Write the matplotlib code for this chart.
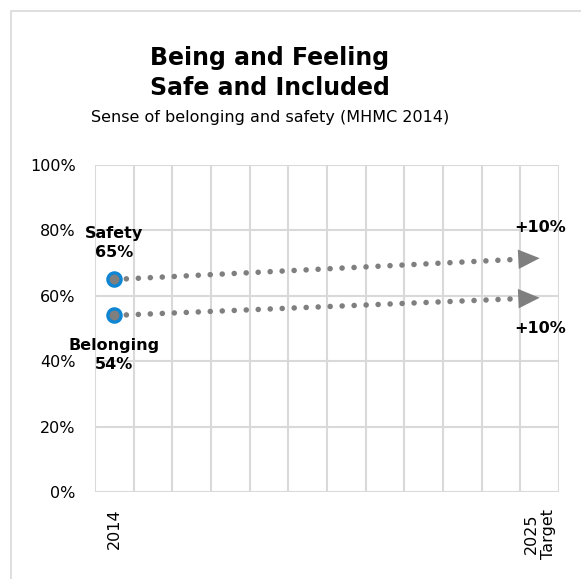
import matplotlib
matplotlib.use("Agg")
import matplotlib.pyplot as plt
from matplotlib.patches import Rectangle

# data
years = ["2014", "2015", "2016", "2017", "2018", "2019", "2020", "2021",
         "2022", "2023", "2024", "2025\nTarget"]
shown_ticks = ["2014", "2025\nTarget"]
series_names = ["Safety", "Belonging"]
baseline = [65, 54]           # 2014
target = [71.5, 59.4]         # 2025 (+10%)
target_labels = ["+10%", "+10%"]

GRID = "#D9D9D9"
DOTS = "#7F7F7F"
BLUE = "#0E86D4"

fig = plt.figure(figsize=(5.81, 5.79), dpi=100)
fig.patch.set_facecolor("white")
fig.patches.append(Rectangle((11 / 581, -0.01), 1.0, (579 - 11) / 579 + 0.01,
                             transform=fig.transFigure, fill=False,
                             edgecolor=GRID, linewidth=1.2))

ax = fig.add_axes([95 / 581, 87 / 579, 464 / 581, 327 / 579])
n = len(years)
ax.set_xlim(0, n)
ax.set_ylim(0, 100)

# grid
for x in range(n + 1):
    ax.axvline(x, color=GRID, lw=1.5, zorder=0)
for y in range(20, 101, 20):
    ax.axhline(y, color=GRID, lw=1.5, zorder=0)
for s in ax.spines.values():
    s.set_visible(False)
ax.axhline(0, color=GRID, lw=1.5, zorder=0)

ax.set_yticks(range(0, 101, 20))
ax.set_yticklabels([f"{v}%" for v in range(0, 101, 20)], fontsize=11.5)
ax.tick_params(axis="y", length=0, pad=14)
pos = [years.index(t) + 0.5 for t in shown_ticks]
ax.set_xticks(pos)
ax.set_xticklabels(shown_ticks, rotation=90, fontsize=11.5, va="top",
                   linespacing=1.15)
ax.tick_params(axis="x", length=0, pad=12)

x0 = 0.5
x1 = n - 0.5
cut = 0.5
for name, b, t, lab in zip(series_names, baseline, target, target_labels):
    slope = (t - b) / (x1 - x0)
    ax.plot([x0, x1 - cut], [b, t - slope * cut],
            color=DOTS, lw=4.0, linestyle=(0, (0.01, 2.15)),
            dash_capstyle="round", zorder=2)
    ax.annotate("", xy=(x1, t), xytext=(x1 - cut, t - slope * cut),
                arrowprops=dict(arrowstyle="-|>,head_length=1.1,head_width=0.5",
                                color=DOTS, lw=0, mutation_scale=14,
                                shrinkA=0, shrinkB=0), zorder=3)
    ax.plot([x0], [b], marker="o", ms=9.5, mfc=DOTS, mec=BLUE, mew=2.4,
            zorder=4, clip_on=False)

# point labels
ax.text(x0, baseline[0] + 6, f"{series_names[0]}\n{baseline[0]}%",
        ha="center", va="bottom", fontsize=11.5, fontweight="bold",
        linespacing=1.35)
ax.text(x0, baseline[1] - 7, f"{series_names[1]}\n{baseline[1]}%",
        ha="center", va="top", fontsize=11.5, fontweight="bold",
        linespacing=1.3)
ax.text(x1, target[0] + 7, target_labels[0], ha="center", va="bottom",
        fontsize=11.5, fontweight="bold")
ax.text(x1, target[1] - 7, target_labels[1], ha="center", va="top",
        fontsize=11.5, fontweight="bold")

# titles
fig.text(270 / 581, 1 - 73 / 579, "Being and Feeling\nSafe and Included",
         ha="center", va="center", fontsize=17, fontweight="bold",
         linespacing=1.35)
fig.text(270 / 581, 1 - 117 / 579, "Sense of belonging and safety (MHMC 2014)",
         ha="center", va="center", fontsize=11.5)

fig.savefig("out.png", dpi=100, facecolor="white")
